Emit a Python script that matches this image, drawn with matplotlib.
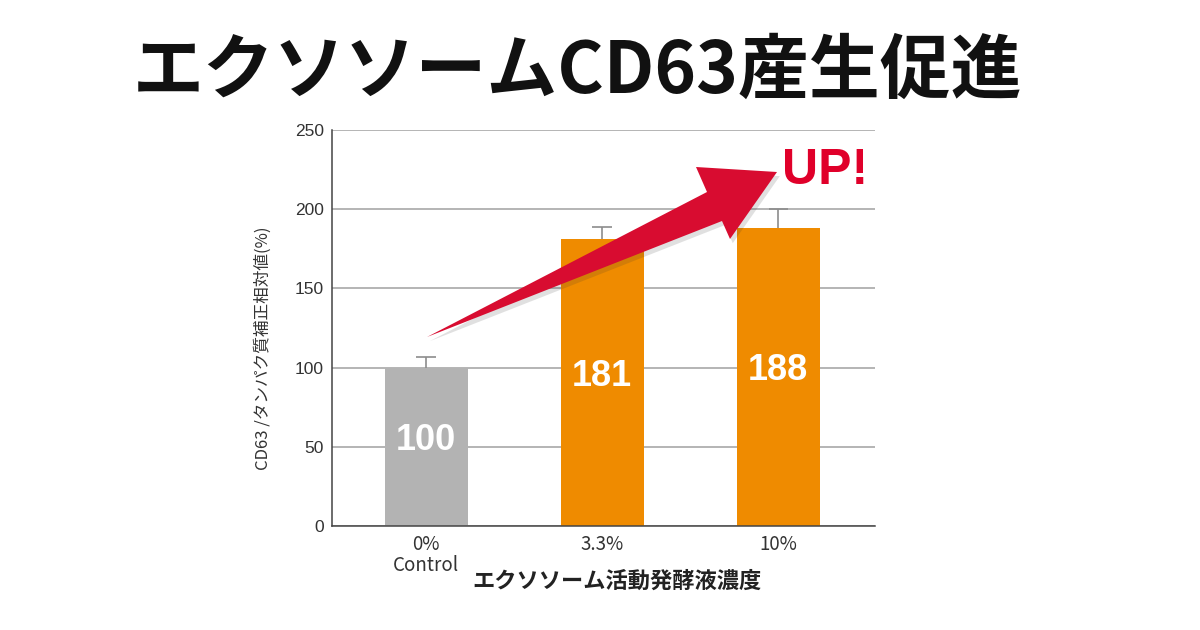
import numpy as np
import matplotlib
matplotlib.use('Agg')
import matplotlib.pyplot as plt
from matplotlib.patches import Polygon
import matplotlib.patheffects as pe

plt.rcParams['font.family'] = ['Noto Sans CJK JP', 'DejaVu Sans']

# data
categories = ['0%\nControl', '3.3%', '10%']
values = [100, 181, 188]
errors = [7, 8, 12]
bar_colors = ['#b3b3b3', '#ef8b00', '#ef8b00']
yticks = [0, 50, 100, 150, 200, 250]

title = 'エクソソームCD63産生促進'
ylabel = 'CD63 /タンパク質補正相対値(%)'
xlabel = 'エクソソーム活動発酵液濃度'

fig = plt.figure(figsize=(12, 6.3), dpi=100)
ax = fig.add_axes([332 / 1200, 1 - 526 / 630, 543 / 1200, 396 / 630])

x = np.arange(len(categories))
vals = np.array(values)
tops = vals + np.array(errors)
ax.bar(x, vals, width=0.47, color=bar_colors, zorder=2)
# upper-only error bars
ax.vlines(x, vals, tops, color='#8c8c8c', linewidth=1.2, zorder=1)
ax.hlines(tops, x - 0.055, x + 0.055, color='#8c8c8c', linewidth=1.2, zorder=1)

for xi, v in zip(x, values):
    ax.text(xi, v * 0.5 + 4, str(v), ha='center', va='center', color='white',
            fontsize=26, fontweight='bold', family='Liberation Sans', zorder=3)

ax.set_xlim(-0.535, 2.55)
ax.set_ylim(0, 250)
ax.set_yticks(yticks)
ax.set_yticklabels([str(t) for t in yticks], family='Liberation Sans',
                   fontsize=12.5, color='#333333')
ax.set_xticks(x)
ax.set_xticklabels(categories, fontsize=13.5, color='#333333', linespacing=1.0)
ax.tick_params(axis='both', length=0)
ax.tick_params(axis='x', pad=6)
ax.tick_params(axis='y', pad=6)
ax.yaxis.grid(True, color='#a0a0a0', linewidth=1.1, zorder=0)
ax.set_axisbelow(True)
for s in ['top', 'right']:
    ax.spines[s].set_visible(False)
for s in ['left', 'bottom']:
    ax.spines[s].set_color('#444444')
    ax.spines[s].set_linewidth(1.1)

ax.set_ylabel(ylabel, fontsize=12, color='#333333')
ax.yaxis.set_label_coords(-0.11, 0.45)
ax.set_xlabel(xlabel, fontsize=16, fontweight='bold', color='#222222')
ax.xaxis.set_label_coords(0.525, -0.11)

fig.text(577 / 1200, 1 - 72 / 630, title, ha='center', va='center',
         fontsize=51, fontweight='bold', color='#111111')

# decorative "UP" arrow (figure pixel coords)
arrow_px = [(427, 337), (707, 192), (696, 167), (777, 172),
            (730, 239), (722, 221)]
arrow_pts = [(px / 1200, 1 - py / 630) for px, py in arrow_px]
arrow = Polygon(arrow_pts, closed=True, transform=fig.transFigure,
                facecolor='#d80c30', edgecolor='none', zorder=5)
arrow.set_path_effects([pe.SimplePatchShadow(offset=(2, -3), alpha=0.15,
                                             shadow_rgbFace='#333333'),
                        pe.Normal()])
fig.patches.append(arrow)

fig.text(825 / 1200, 1 - 171 / 630, 'UP!', ha='center', va='center',
         fontsize=36, fontweight='bold', color='#e0002a',
         family='Liberation Sans')

fig.savefig('out.png', dpi=100)
